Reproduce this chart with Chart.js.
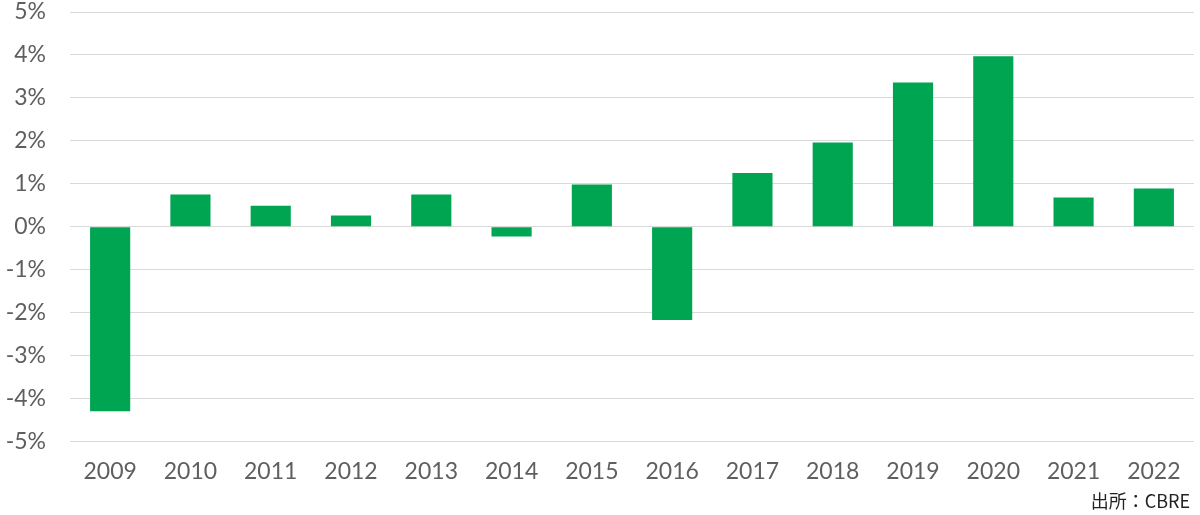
<!DOCTYPE html>
<html>
<head>
<meta charset="utf-8">
<script src="https://cdn.jsdelivr.net/npm/chart.js@4/dist/chart.umd.min.js"></script>
<style>
  html, body { margin: 0; padding: 0; background: #fff; }
  #wrap { position: relative; width: 1200px; height: 515px; }
  #source {
    position: absolute; right: 10px; top: 487px;
    font-family: "Noto Sans CJK JP", Lato, sans-serif; font-size: 18px; color: #222;
  }
</style>
</head>
<body>
<div id="wrap">
  <canvas id="barChart_growth" width="1200" height="515"></canvas>
  <div id="source">出所：CBRE</div>
</div>
<script>
/*DATOS*/
let years = ['2009','2010','2011','2012','2013','2014','2015','2016','2017','2018','2019','2020','2021','2022'];
let growth = [-4.3, 0.75, 0.49, 0.26, 0.75, -0.23, 0.98, -2.17, 1.25, 1.96, 3.36, 3.97, 0.68, 0.89];
let yTicks = [-5, -4, -3, -2, -1, 0, 1, 2, 3, 4, 5];

let myChart_growth = document.getElementById('barChart_growth').getContext('2d');
let growthChart = new Chart(myChart_growth, {
    type:'bar',
    data:{
        labels: years,
        datasets:[{
            label:'Growth',
            data: growth,
            backgroundColor: 'rgb(0, 165, 82)',
            barPercentage: 0.5,
            categoryPercentage: 1.0
        }]
    },
    options:{
        responsive: false,
        animation: false,
        layout: { padding: { left: 0, right: 6, top: 0, bottom: 22 } },
        plugins: {
            legend: { display: false },
            tooltip: { enabled: false }
        },
        scales: {
            x: {
                grid: { display: false },
                border: { display: false },
                ticks: {
                    color: '#5f5f5f',
                    font: { family: 'Lato', size: 23 },
                    padding: 8
                }
            },
            y: {
                min: -5,
                max: 5,
                afterBuildTicks: function(axis) {
                    axis.ticks = yTicks.map(function(v) { return { value: v }; });
                },
                afterFit: function(axis) {
                    // ancho fijo del eje y sin el padding extra de arriba
                    axis.width = 70;
                    axis.paddingTop = 12;
                    axis.paddingBottom = 0;
                },
                grid: { color: '#d9d9d9', lineWidth: 1, drawTicks: false },
                border: { display: false },
                ticks: {
                    color: '#5f5f5f',
                    font: { family: 'Lato', size: 23 },
                    padding: 24,
                    callback: function(v) { return v + '%'; }
                }
            }
        }
    }
});
</script>
</body>
</html>
